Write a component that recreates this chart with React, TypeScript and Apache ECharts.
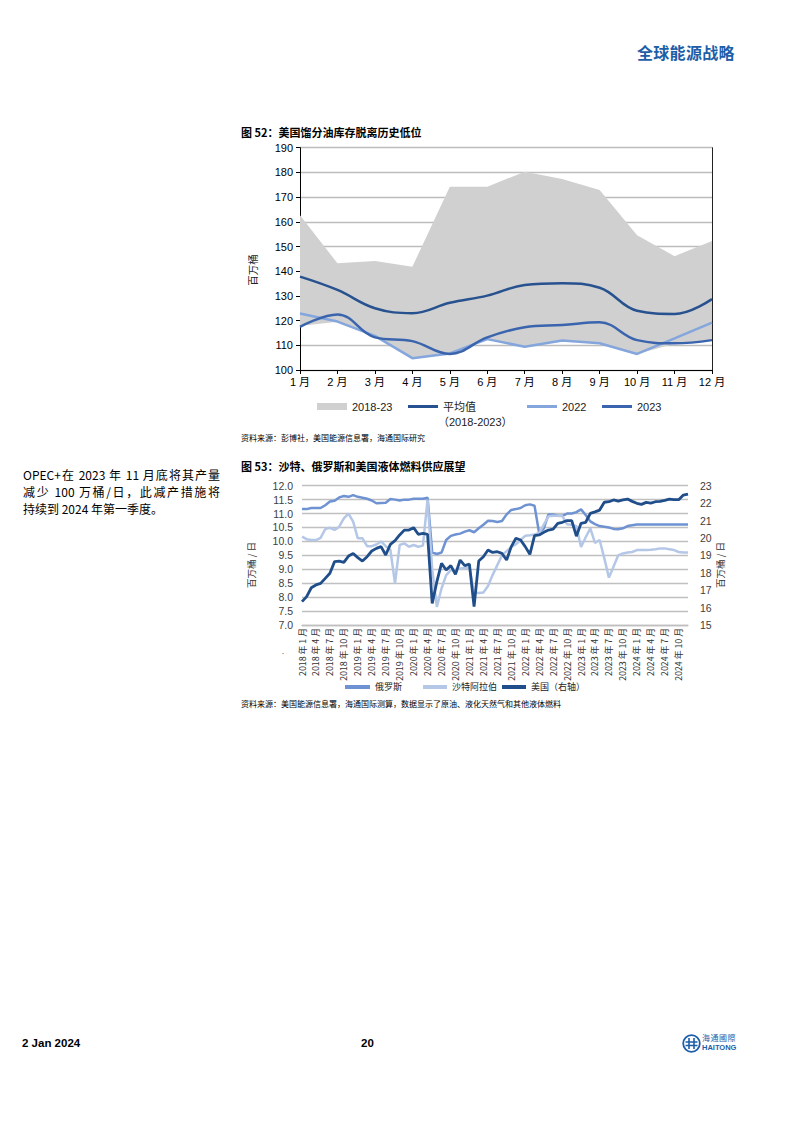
import React, { useEffect, useRef } from "react";
import * as echarts from "echarts";

const CJK = '"Noto Sans CJK SC", "Liberation Sans", Arial, sans-serif';
const NUM = '"Liberation Sans", Arial, "Noto Sans CJK SC", sans-serif';

// 图 52: monthly distillate inventories (百万桶)
const invMonths = ["1 月", "2 月", "3 月", "4 月", "5 月", "6 月", "7 月", "8 月", "9 月", "10 月", "11 月", "12 月"];
const rangeLow = [117.8, 119.5, 113.5, 104.8, 106.3, 112.3, 109.4, 111.8, 110.8, 106.5, 110.6, 112.0];
const rangeHigh = [162.7, 143.2, 144.1, 141.8, 174.2, 174.2, 180.3, 177.3, 172.9, 154.6, 146.1, 152.2];
const avg1823 = [137.8, 132.4, 125.0, 123.0, 127.2, 130.1, 134.4, 135.1, 133.3, 124.0, 122.7, 128.7];
const inv2022 = [122.9, 119.6, 113.8, 104.8, 106.7, 112.5, 109.4, 111.9, 110.8, 106.5, 112.8, 119.2];
const inv2023 = [117.5, 122.5, 113.2, 111.7, 106.5, 113.2, 117.3, 118.2, 119.3, 112.1, 110.8, 112.1];

// 图 53: liquid fuels supply, 2018-01 .. 2024-12
const supplyYears = [2018, 2019, 2020, 2021, 2022, 2023, 2024];
const monthNums = [1, 2, 3, 4, 5, 6, 7, 8, 9, 10, 11, 12];
const supplyMonths = supplyYears.flatMap((y) => monthNums.map((m) => `${y} 年 ${m} 月`));

const russia = [
  11.16, 11.16, 11.2, 11.2, 11.2, 11.3, 11.43, 11.46, 11.58, 11.63,
  11.6, 11.66, 11.6, 11.57, 11.53, 11.47, 11.37, 11.38, 11.39, 11.52,
  11.5, 11.47, 11.5, 11.5, 11.53, 11.53, 11.53, 11.57, 9.6, 9.55,
  9.6, 10.05, 10.2, 10.25, 10.28, 10.35, 10.4, 10.33, 10.47, 10.6,
  10.74, 10.73, 10.7, 10.73, 10.97, 11.13, 11.16, 11.2, 11.3, 11.33,
  11.28, 10.29, 10.47, 10.97, 10.97, 10.92, 10.92, 11.0, 11.0, 11.05,
  11.15, 10.95, 10.72, 10.62, 10.55, 10.53, 10.5, 10.45, 10.44, 10.47,
  10.55, 10.58, 10.61, 10.61, 10.61, 10.61, 10.61, 10.61, 10.61, 10.61,
  10.61, 10.61, 10.61, 10.61,
];
const saudi = [
  10.17, 10.08, 10.05, 10.05, 10.13, 10.44, 10.49, 10.41, 10.53, 10.83,
  11.0, 10.71, 10.11, 10.11, 9.83, 9.83, 9.89, 10.0, 9.83, 9.7,
  8.5, 9.87, 9.93, 9.81, 9.87, 9.81, 9.85, 11.5, 9.0, 7.65,
  8.31, 8.79, 8.97, 8.97, 9.03, 9.05, 9.05, 8.17, 8.15, 8.17,
  8.4, 8.8, 9.15, 9.5, 9.65, 9.8, 9.9, 10.05, 10.2, 10.22,
  10.25, 10.3, 10.6, 10.9, 10.92, 10.92, 10.9, 10.62, 10.6, 10.55,
  9.8, 10.15, 10.47, 9.95, 10.05, 9.4, 8.7, 9.1, 9.5, 9.57,
  9.6, 9.62, 9.69, 9.69, 9.69, 9.7, 9.72, 9.75, 9.75, 9.72,
  9.69, 9.62, 9.6, 9.6,
];
const usa = [
  16.34, 16.63, 17.14, 17.3, 17.39, 17.68, 17.97, 18.64, 18.67, 18.6,
  18.96, 19.11, 18.87, 18.67, 18.92, 19.25, 19.4, 19.5, 19.02, 19.63,
  19.84, 20.17, 20.45, 20.45, 20.59, 20.21, 20.26, 20.2, 16.24, 17.49,
  18.54, 18.16, 18.41, 17.91, 18.73, 18.41, 18.5, 16.05, 18.67, 18.92,
  19.31, 19.17, 19.21, 19.11, 18.73, 19.5, 19.98, 19.88, 19.5, 19.06,
  20.13, 20.17, 20.32, 20.45, 20.5, 20.84, 20.9, 21.0, 21.0, 20.1,
  20.84, 20.9, 21.41, 21.5, 21.6, 22.05, 22.08, 22.18, 22.12, 22.18,
  22.23, 22.1, 21.99, 21.93, 22.04, 22.0, 22.08, 22.1, 22.16, 22.23,
  22.2, 22.2, 22.46, 22.52,
];

const legendItem = (name: string, left: number, top: number, w: number, h: number, fontSize: number) => ({
  data: [name],
  left,
  top,
  padding: 0,
  icon: "rect",
  itemWidth: w,
  itemHeight: h,
  selectedMode: false,
  textStyle: { fontSize, color: "#222", fontFamily: NUM },
});

const inventoryOption = {
  animation: false,
  title: {
    text: "图 52：美国馏分油库存脱离历史低位",
    left: 11,
    top: 6,
    padding: 0,
    textStyle: { fontSize: 11, fontWeight: "bold", color: "#000", fontFamily: CJK },
  },
  grid: { left: 70, right: 18, top: 27.7, bottom: 80 },
  legend: [
    legendItem("2018-23", 87, 281, 30, 7, 11),
    legendItem("平均值", 178, 281, 30, 3, 11),
    legendItem("2022", 297, 281, 30, 3, 11),
    legendItem("2023", 372, 281, 30, 3, 11),
  ],
  xAxis: {
    type: "category",
    boundaryGap: false,
    data: invMonths,
    axisLine: { lineStyle: { color: "#000", width: 1 } },
    axisTick: { length: 4, lineStyle: { color: "#000" } },
    axisLabel: { fontSize: 11, color: "#000", margin: 6, fontFamily: NUM },
  },
  yAxis: [
    {
      type: "value",
      min: 100,
      max: 190,
      interval: 10,
      axisLine: { show: true, lineStyle: { color: "#000", width: 1 } },
      axisTick: { show: true, length: 4, lineStyle: { color: "#000" } },
      axisLabel: { fontSize: 11, color: "#000", margin: 7, fontFamily: NUM },
      splitLine: { lineStyle: { color: "#bdbdbd", width: 1.3 } },
    },
    {
      type: "value",
      position: "right",
      min: 100,
      max: 190,
      interval: 10,
      axisLine: { show: true, lineStyle: { color: "#222", width: 1 } },
      axisTick: { show: false },
      axisLabel: { show: false },
      splitLine: { show: false },
    },
  ],
  graphic: [
    {
      type: "text",
      x: 22,
      y: 150,
      rotation: Math.PI / 2,
      style: { text: "百万桶", fontSize: 10.5, fontFamily: CJK, fill: "#222", align: "center", verticalAlign: "middle" },
    },
    {
      type: "text",
      x: 208,
      y: 302,
      style: { text: "（2018-2023）", fontSize: 11, fontFamily: NUM, fill: "#222", align: "left", verticalAlign: "middle" },
    },
    {
      type: "text",
      x: 11,
      y: 317,
      style: {
        text: "资料来源：彭博社，美国能源信息署，海通国际研究",
        fontSize: 8,
        fontFamily: CJK,
        fill: "#000",
        align: "left",
        verticalAlign: "middle",
      },
    },
  ],
  series: [
    {
      name: "range-base",
      type: "line",
      stack: "range",
      data: rangeLow,
      symbol: "none",
      lineStyle: { opacity: 0 },
      silent: true,
    },
    {
      name: "2018-23",
      type: "line",
      stack: "range",
      data: rangeHigh.map((v, i) => +(v - rangeLow[i]).toFixed(2)),
      symbol: "none",
      color: "#d0d0d0",
      lineStyle: { opacity: 0 },
      areaStyle: { color: "#d0d0d0", opacity: 1 },
      silent: true,
    },
    {
      name: "平均值",
      type: "line",
      data: avg1823,
      smooth: 0.4,
      symbol: "none",
      color: "#28528f",
      lineStyle: { width: 2.5 },
    },
    {
      name: "2022",
      type: "line",
      data: inv2022,
      symbol: "none",
      color: "#84a6dc",
      lineStyle: { width: 2.5 },
    },
    {
      name: "2023",
      type: "line",
      data: inv2023,
      smooth: 0.4,
      symbol: "none",
      color: "#3a64ad",
      lineStyle: { width: 2.5 },
    },
  ],
};

const supplyOption = {
  animation: false,
  title: {
    text: "图 53：沙特、俄罗斯和美国液体燃料供应展望",
    left: 11,
    top: 5,
    padding: 0,
    textStyle: { fontSize: 11, fontWeight: "bold", color: "#000", fontFamily: CJK },
  },
  grid: { left: 72, right: 42, top: 30.7, bottom: 90 },
  legend: [
    legendItem("俄罗斯", 115, 227.5, 25, 4, 9),
    legendItem("沙特阿拉伯", 193, 227.5, 24, 4, 9),
    legendItem("美国（右轴）", 272, 227.5, 24, 4, 9),
  ],
  xAxis: {
    type: "category",
    boundaryGap: false,
    data: supplyMonths,
    axisLine: { lineStyle: { color: "#bfbfbf", width: 1.3 } },
    axisTick: { show: false },
    axisLabel: { rotate: 90, interval: 2, fontSize: 8.8, color: "#333", margin: 3, fontFamily: CJK },
  },
  yAxis: [
    {
      type: "value",
      min: 7,
      max: 12,
      interval: 0.5,
      axisLine: { show: false },
      axisTick: { show: false },
      axisLabel: {
        fontSize: 10.5,
        color: "#404040",
        margin: 9,
        fontFamily: NUM,
        formatter: (v: number) => v.toFixed(1),
      },
      splitLine: { lineStyle: { color: "#c0c0c0", width: 1.3 } },
    },
    {
      type: "value",
      min: 15,
      max: 23,
      interval: 1,
      axisLine: { show: false },
      axisTick: { show: false },
      axisLabel: { fontSize: 10.5, color: "#404040", margin: 12, fontFamily: NUM },
      splitLine: { show: false },
    },
  ],
  graphic: [
    {
      type: "text",
      x: 21,
      y: 110,
      rotation: Math.PI / 2,
      style: { text: "百万桶 / 日", fontSize: 9.5, fontFamily: CJK, fill: "#333", align: "center", verticalAlign: "middle" },
    },
    {
      type: "text",
      x: 490,
      y: 110,
      rotation: Math.PI / 2,
      style: { text: "百万桶 / 日", fontSize: 9.5, fontFamily: CJK, fill: "#333", align: "center", verticalAlign: "middle" },
    },
    {
      type: "text",
      x: 53,
      y: 196,
      style: { text: ".", fontSize: 9, fontFamily: NUM, fill: "#555", align: "center", verticalAlign: "middle" },
    },
    {
      type: "text",
      x: 11,
      y: 248,
      style: {
        text: "资料来源：美国能源信息署，海通国际测算，数据显示了原油、液化天然气和其他液体燃料",
        fontSize: 8,
        fontFamily: CJK,
        fill: "#000",
        align: "left",
        verticalAlign: "middle",
      },
    },
  ],
  series: [
    {
      name: "俄罗斯",
      type: "line",
      data: russia,
      symbol: "none",
      color: "#6e92d2",
      lineStyle: { width: 2.5 },
    },
    {
      name: "沙特阿拉伯",
      type: "line",
      data: saudi,
      symbol: "none",
      color: "#b5c7e7",
      lineStyle: { width: 2.5 },
    },
    {
      name: "美国（右轴）",
      type: "line",
      yAxisIndex: 1,
      data: usa,
      symbol: "none",
      color: "#1f4e8a",
      lineStyle: { width: 2.8 },
    },
  ],
};

const EChart = ({ option, style }: { option: any; style: React.CSSProperties }) => {
  const ref = useRef<HTMLDivElement>(null);

  useEffect(() => {
    if (!ref.current) return;
    const chart = echarts.init(ref.current, undefined, { renderer: "svg" });
    chart.setOption(option);
    return () => {
      chart.dispose();
    };
  }, [option]);

  return <div ref={ref} style={style} />;
};

const lineStyle: React.CSSProperties = {
  height: 17,
  lineHeight: "17px",
  whiteSpace: "nowrap",
};

const App = () => {
  return (
    <div
      style={{
        position: "absolute",
        left: 0,
        top: 0,
        width: 794,
        height: 1122,
        background: "#fff",
        overflow: "hidden",
        fontFamily: CJK,
        color: "#000",
      }}
    >
      <div
        style={{
          position: "absolute",
          left: 637,
          top: 43,
          fontSize: 16,
          lineHeight: "19px",
          fontWeight: 700,
          color: "#1d5ea9",
          letterSpacing: 0.3,
        }}
      >
        全球能源战略
      </div>

      <EChart option={inventoryOption} style={{ position: "absolute", left: 230, top: 120, width: 500, height: 330 }} />

      <div style={{ position: "absolute", left: 23, top: 466, width: 197, fontSize: 12 }}>
        <div style={{ ...lineStyle, textAlign: "justify", textAlignLast: "justify" }}>OPEC+在 2023 年 11 月底将其产量</div>
        <div style={{ ...lineStyle, textAlign: "justify", textAlignLast: "justify" }}>减少 100 万桶/日，此减产措施将</div>
        <div style={lineStyle}>持续到 2024 年第一季度。</div>
      </div>

      <EChart option={supplyOption} style={{ position: "absolute", left: 230, top: 455, width: 500, height: 260 }} />

      <div
        style={{
          position: "absolute",
          left: 22,
          top: 1035,
          fontSize: 11.5,
          lineHeight: "16px",
          fontWeight: 700,
          fontFamily: NUM,
        }}
      >
        2 Jan 2024
      </div>
      <div
        style={{
          position: "absolute",
          left: 361,
          top: 1035,
          fontSize: 11.5,
          lineHeight: "16px",
          fontWeight: 700,
          fontFamily: NUM,
        }}
      >
        20
      </div>
      <svg style={{ position: "absolute", left: 682, top: 1034 }} width="19" height="19" viewBox="0 0 19 19">
        <circle cx="9.5" cy="9.5" r="8.3" fill="none" stroke="#1d5ea9" strokeWidth="1.8" />
        <path d="M3.5 8 H15.5 M3.5 11.5 H15.5 M7 4 V15 M12 4 V15" stroke="#1d5ea9" strokeWidth="1.6" fill="none" />
      </svg>
      <div
        style={{
          position: "absolute",
          left: 702,
          top: 1033,
          fontSize: 8,
          lineHeight: "9px",
          color: "#1d5ea9",
          fontFamily: CJK,
          letterSpacing: 0.5,
        }}
      >
        海通國際
      </div>
      <div
        style={{
          position: "absolute",
          left: 702,
          top: 1043,
          fontSize: 7.5,
          lineHeight: "9px",
          fontWeight: 700,
          color: "#1d5ea9",
          fontFamily: NUM,
        }}
      >
        HAITONG
      </div>
    </div>
  );
};

export default App;
